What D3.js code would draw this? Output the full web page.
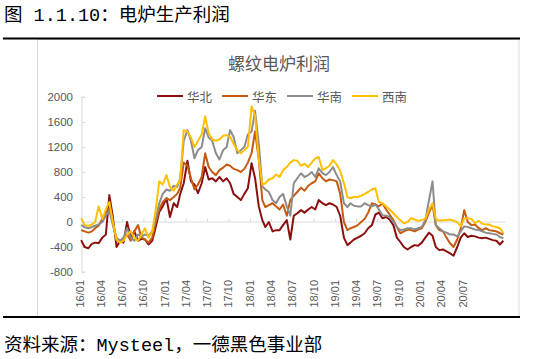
<!DOCTYPE html>
<html>
<head>
<meta charset="utf-8">
<script src="https://cdn.jsdelivr.net/npm/d3@7"></script>
<style>
  body { margin: 0; background: #fff; }
  svg { display: block; }
</style>
</head>
<body>
<div id="chart"></div>
<script>
const W = 550, H = 359;

// categories: two readings per month, 2016/01 .. 2020/12
const months = d3.timeMonth.range(new Date(2016, 0, 1), new Date(2021, 0, 1));
const dates = months.flatMap(m => [new Date(m.getFullYear(), m.getMonth(), 8), new Date(m.getFullYear(), m.getMonth(), 23)]);

const seriesNames = ['华北', '华东', '华南', '西南'];
const tickLabels = ['16/01','16/04','16/07','16/10','17/01','17/04','17/07','17/10','18/01','18/04','18/07','18/10','19/01','19/04','19/07','19/10','20/01','20/04','20/07'];
const yTicks = [-800, -400, 0, 400, 800, 1200, 1600, 2000];

const north = [-290,-400,-420,-350,-330,-340,-250,-200,430,80, -400,-300,-330,0,-250,-150,-300,-270,-280,-360,
  -300,-80,160,250,380,80,300,240,450,620, 980,650,600,460,620,880,680,700,650,720,
  650,700,620,450,400,350,450,540,940,700, 250,30,-80,0,-150,-130,-130,-50,30,-280,
  100,140,190,150,200,240,200,350,300,270, 300,280,240,100,-250,-370,-330,-280,-250,-220,
  -180,-100,-50,120,150,60,80,40,-50,-250, -320,-400,-440,-400,-370,-380,-330,-250,-170,-220,
  -400,-450,-440,-470,-500,-540,-400,-250,-180,-240, -220,-230,-250,-260,-250,-270,-290,-300,-360,-300];

const east = [-130,-150,-170,-150,-100,-60,50,150,220,0, -300,-320,-250,-200,-300,-150,-50,-250,-280,-330,
  -250,0,200,320,380,350,400,450,550,950, 900,700,520,600,720,1100,880,800,750,830,
  870,920,900,850,830,800,850,950,1100,1450, 1000,350,240,270,300,250,200,280,100,350,
  420,480,550,500,580,620,650,780,700,650, 680,670,650,450,0,-130,-100,-80,-50,0,
  50,150,300,280,250,300,200,120,30,-80, -180,-150,-120,-130,-150,-120,-100,0,150,280,
  -50,-130,-150,-250,-340,-400,-280,-100,190,0, -50,-40,-100,-130,-100,-130,-140,-150,-180,-200];

const south = [-50,-80,-100,-80,-60,-40,0,100,180,-50, -250,-300,-250,-100,-250,-300,-200,-230,-200,-220,
  -150,50,300,450,520,500,580,560,700,1300, 1470,1300,1020,1150,1200,1500,1350,1300,1100,1000,
  1150,1200,1470,1360,1100,1150,1200,1400,1450,1780, 1250,570,520,480,350,300,400,450,250,100,
  620,700,780,720,750,800,720,860,780,750, 800,880,750,650,300,240,300,260,250,250,
  300,270,250,280,200,110,100,80,0,-80, -130,-120,-100,-100,-120,-100,-80,30,350,650,
  -50,-100,-150,-170,-200,-200,-230,-150,-70,-80, -100,-120,-130,-150,-170,-180,-190,-200,-240,-260];

const southwest = [60,-50,-60,-40,0,250,50,200,320,0, -280,-330,-300,-200,-150,-250,-300,-200,-100,-250,
  -150,200,650,600,750,560,500,600,670,1470, 1450,1350,1200,1300,1400,1690,1420,1320,1300,1320,
  1380,1390,1360,1250,1150,1100,1150,1200,1850,1700, 1000,600,620,680,700,760,720,830,880,950,
  990,980,900,930,880,950,1020,1040,830,860, 900,990,920,820,620,400,380,400,400,420,
  450,480,520,540,320,300,250,200,140,80, 30,-20,0,60,40,20,30,50,200,300,
  50,20,30,30,40,20,0,-70,60,60, 50,-20,20,-30,-40,-40,-70,-80,-100,-180];

const seriesValues = [north, east, south, southwest];
const colors = ['#8b0f0f', '#c55a11', '#8c8c8c', '#ffc000'];

const TEXT = '#595959', GRID = '#d9d9d9';
const outerFont = '"Liberation Mono", "Noto Sans CJK SC", monospace';
const cjk = '"Noto Sans CJK SC", sans-serif';
const num = '"Liberation Sans", Arial, sans-serif';

const svg = d3.select('#chart').append('svg')
  .attr('width', W).attr('height', H);

// outer caption and rules
svg.append('text')
  .attr('x', 4).attr('y', 21)
  .attr('font-family', outerFont).attr('font-size', 18.5)
  .attr('fill', '#000')
  .text('图 1.1.10：电炉生产利润');

// chart frame
svg.append('rect')
  .attr('x', 37.5).attr('y', 39.5).attr('width', 481.5).attr('height', 277)
  .attr('fill', '#fff').attr('stroke', GRID).attr('stroke-width', 1);

svg.append('line').attr('x1', 3).attr('x2', 520).attr('y1', 38.5).attr('y2', 38.5)
  .attr('stroke', '#000').attr('stroke-width', 2);
svg.append('line').attr('x1', 3).attr('x2', 520).attr('y1', 317).attr('y2', 317)
  .attr('stroke', '#000').attr('stroke-width', 2);

svg.append('text')
  .attr('x', 4).attr('y', 351)
  .attr('font-family', outerFont).attr('font-size', 18.5)
  .attr('fill', '#000')
  .text('资料来源：Mysteel，一德黑色事业部');

// chart title
svg.append('text')
  .attr('x', 279).attr('y', 62)
  .attr('text-anchor', 'middle').attr('dominant-baseline', 'central')
  .attr('font-family', cjk).attr('font-size', 17)
  .attr('fill', TEXT)
  .text('螺纹电炉利润');

// scales
const x = d3.scaleTime()
  .domain([new Date(2016, 0, 1), new Date(2021, 0, 1)])
  .range([79.5, 505.5]);
const y = d3.scaleLinear().domain([-800, 2000]).range([272, 97]);

// y axis
const yAxis = svg.append('g')
  .attr('transform', `translate(82,0)`)
  .call(d3.axisRight(y).tickValues(yTicks).tickSize(3).tickFormat(''));
yAxis.selectAll('path,line').attr('stroke', GRID);
yAxis.select('.domain').attr('d', `M0,${y(2000)}H3M0,${y(2000)}V${y(-800)}H3`);

svg.append('g').selectAll('text')
  .data(yTicks)
  .join('text')
  .attr('x', 73).attr('y', d => y(d))
  .attr('text-anchor', 'end').attr('dominant-baseline', 'central')
  .attr('font-family', num).attr('font-size', 11.5)
  .attr('fill', TEXT)
  .text(d => d);

// x axis on the zero line
const parseTick = d3.timeParse('%y/%m');
const tickDates = tickLabels.map(parseTick);
const xAxis = svg.append('g')
  .attr('transform', `translate(0,${y(0)})`)
  .call(d3.axisTop(x).tickValues(tickDates.slice(1)).tickSize(3).tickFormat(''));
xAxis.selectAll('path,line').attr('stroke', GRID);
xAxis.select('.domain').attr('d', `M82,0H505`);

svg.append('g').selectAll('text')
  .data(tickLabels)
  .join('text')
  .attr('transform', d => `translate(${x(parseTick(d))},280) rotate(-90)`)
  .attr('text-anchor', 'end').attr('dominant-baseline', 'central')
  .attr('font-family', num).attr('font-size', 11)
  .attr('fill', TEXT)
  .text(d => d);

// lines
const line = d3.line()
  .x((d, i) => x(dates[i]))
  .y(d => y(d));

svg.append('g').selectAll('path')
  .data(seriesValues)
  .join('path')
  .attr('d', d => line(d))
  .attr('fill', 'none')
  .attr('stroke', (d, i) => colors[i])
  .attr('stroke-width', 2)
  .attr('stroke-linejoin', 'round');

// legend
const legendX = [157, 222, 287, 352];
const legend = svg.append('g').selectAll('g')
  .data(seriesNames)
  .join('g')
  .attr('transform', (d, i) => `translate(${legendX[i]},96)`);
legend.append('line')
  .attr('x1', 0).attr('x2', 26)
  .attr('stroke', (d, i) => colors[i]).attr('stroke-width', 2);
legend.append('text')
  .attr('x', 30).attr('y', 0)
  .attr('dominant-baseline', 'central')
  .attr('font-family', cjk).attr('font-size', 12.5)
  .attr('fill', TEXT)
  .text(d => d);
</script>
</body>
</html>
